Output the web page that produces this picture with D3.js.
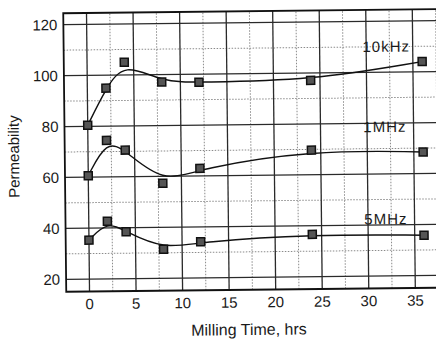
<!DOCTYPE html>
<html>
<head>
<meta charset="utf-8">
<script src="https://cdn.jsdelivr.net/npm/d3@7"></script>
<style>
  body { margin: 0; background: #fff; }
  text { font-family: "Liberation Sans", Arial, sans-serif; fill: #1a1a1a; }
</style>
</head>
<body>
<div id="chart"></div>
<script>
// milling time (hrs) and permeability at each test frequency
const times = [0, 2, 4, 8, 12, 24, 36];
const perm10kHz = [80.4, 94.9, 105.0, 97.1, 96.8, 97.1, 104.0];
const perm1MHz = [60.6, 74.4, 70.5, 57.3, 63.0, 69.7, 68.5];
const perm5MHz = [35.3, 42.6, 38.4, 31.4, 34.2, 36.6, 35.8];
const seriesNames = ["10kHz", "1MHz", "5MHz"];
const xTicks = [0, 5, 10, 15, 20, 25, 30, 35];
const yTicks = [20, 40, 60, 80, 100, 120];

const width = 436, height = 342;

var svg = d3.select("#chart")
            .append("svg")
            .attr("width", width)
            .attr("height", height);

svg.append("rect").attr("width", width).attr("height", height).attr("fill", "#fff");

// the scanned figure sits slightly tilted
var g = svg.append("g").attr("transform", "rotate(-0.62,250,150)");

var x = d3.scaleLinear().domain([0, 35]).range([88, 413.8]);
var y = d3.scaleLinear().domain([20, 120]).range([277.3, 22.7]);
const xLo = -2.5, xHi = 38, yLo = 15.1, yHi = 124.5;

// dotted minor grid
var minorX = d3.range(2.5, xHi, 5);
var minorY = d3.range(30, 120, 20);
g.append("g").selectAll("line").data(minorX).enter().append("line")
    .attr("x1", d => x(d)).attr("x2", d => x(d))
    .attr("y1", y(yLo)).attr("y2", y(yHi))
    .attr("stroke", "#8a8a8a").attr("stroke-width", 1).attr("stroke-dasharray", "1.5,1.5");
g.append("g").selectAll("line").data(minorY).enter().append("line")
    .attr("x1", x(xLo)).attr("x2", x(xHi))
    .attr("y1", d => y(d)).attr("y2", d => y(d))
    .attr("stroke", "#8a8a8a").attr("stroke-width", 1).attr("stroke-dasharray", "1.5,1.5");

// solid major grid
g.append("g").selectAll("line").data(xTicks).enter().append("line")
    .attr("x1", d => x(d)).attr("x2", d => x(d))
    .attr("y1", y(yLo)).attr("y2", y(yHi))
    .attr("stroke", "#2a2a2a").attr("stroke-width", 1.3);
g.append("g").selectAll("line").data(yTicks).enter().append("line")
    .attr("x1", x(xLo)).attr("x2", x(xHi))
    .attr("y1", d => y(d)).attr("y2", d => y(d))
    .attr("stroke", "#2a2a2a").attr("stroke-width", 1.3);

// frame: left, top, bottom
g.append("path")
    .attr("d", "M" + x(xHi) + "," + y(yHi) + "H" + x(xLo) + "V" + y(yLo) + "H" + x(xHi))
    .attr("fill", "none").attr("stroke", "#111").attr("stroke-width", 1.8);

// tick labels
g.append("g").selectAll("text").data(yTicks).enter().append("text")
    .attr("x", x(xLo) - 6).attr("y", d => y(d)).attr("dy", "0.36em")
    .attr("text-anchor", "end").style("font-size", "15px")
    .text(d => d);
g.append("g").selectAll("text").data(xTicks).enter().append("text")
    .attr("x", d => x(d)).attr("y", 307.5)
    .attr("text-anchor", "middle").style("font-size", "15px")
    .text(d => d);

// axis titles
g.append("text")
    .attr("x", 247).attr("y", 335)
    .attr("text-anchor", "middle").style("font-size", "16px")
    .text("Milling Time, hrs");
g.append("text")
    .attr("transform", "translate(19,154) rotate(-90)")
    .attr("text-anchor", "middle").style("font-size", "15px")
    .text("Permeability");

// fitted curves and markers
var seriesValues = [perm10kHz, perm1MHz, perm5MHz];
var line = d3.line()
    .x((d, i) => x(times[i]))
    .y(d => y(d))
    .curve(d3.curveBasis);

seriesValues.forEach(function (vals) {
    g.append("path")
        .datum(vals)
        .attr("d", line)
        .attr("fill", "none")
        .attr("stroke", "#111")
        .attr("stroke-width", 1.4);
    g.append("g").selectAll("rect").data(vals).enter().append("rect")
        .attr("x", (d, i) => x(times[i]) - 4)
        .attr("y", d => y(d) - 4)
        .attr("width", 8).attr("height", 8)
        .attr("fill", "#555")
        .attr("stroke", "#111")
        .attr("stroke-width", 1.5);
});

// series labels
var labelY = [108.0, 76.5, 40.3];
g.append("g").selectAll("text").data(seriesNames).enter().append("text")
    .attr("x", x(29.6))
    .attr("y", (d, i) => y(labelY[i]))
    .style("font-size", "15px")
    .style("letter-spacing", "1px")
    .text(d => d);
</script>
</body>
</html>
